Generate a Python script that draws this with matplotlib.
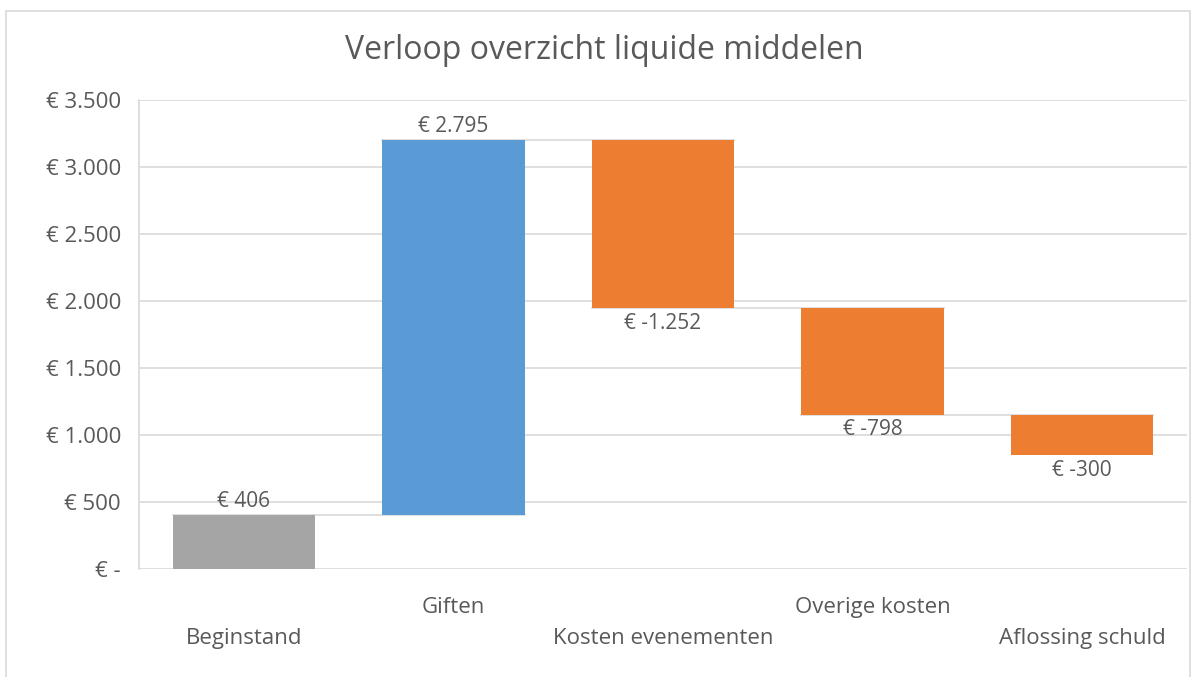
import numpy as np
import matplotlib.pyplot as plt
from matplotlib.patches import Rectangle
from matplotlib.ticker import FuncFormatter

categories = ["Beginstand", "Giften", "Kosten evenementen", "Overige kosten", "Aflossing schuld"]
changes = [406, 2795, -1252, -798, -300]
colors = ["#A5A5A5", "#5B9BD5", "#ED7D31", "#ED7D31", "#ED7D31"]
y_ticks = [0, 500, 1000, 1500, 2000, 2500, 3000, 3500]

plt.rcParams["font.family"] = ["Open Sans", "DejaVu Sans"]
text_color = "#595959"
grid_color = "#D9D9D9"


def euro(v, pos=None):
    if v == 0:
        return "€ -"
    s = f"{abs(int(round(v))):,}".replace(",", ".")
    return f"€ -{s}" if v < 0 else f"€ {s}"


changes = np.array(changes)
ends = np.cumsum(changes)
starts = ends - changes
starts[0] = 0
x = np.arange(len(categories))

fig = plt.figure(figsize=(11.95, 6.77), dpi=100)
ax = fig.add_axes([0.1163, 0.1595, 0.8770, 0.6928])

bottoms = np.minimum(starts, ends)
heights = np.abs(changes)
ax.bar(x, heights, bottom=bottoms, width=0.68, color=colors, zorder=3)

# connector lines between bars
for i in range(len(x) - 1):
    ax.plot([x[i] - 0.34, x[i + 1] + 0.34], [ends[i], ends[i]],
            color=grid_color, lw=1.2, zorder=2)

# data labels
for i, v in enumerate(changes):
    if v >= 0:
        ax.text(x[i], ends[i] + 20, euro(v), ha="center", va="bottom",
                fontsize=15, color=text_color, zorder=4)
    else:
        ax.text(x[i], ends[i] - 35, euro(v), ha="center", va="top",
                fontsize=15, color=text_color, zorder=4)

ax.set_xlim(-0.5, len(x) - 0.5)
ax.set_ylim(0, 3500)
ax.set_yticks(y_ticks)
ax.yaxis.set_major_formatter(FuncFormatter(euro))
ax.tick_params(axis="y", length=0, labelsize=16, labelcolor=text_color, pad=13)
ax.grid(axis="y", color=grid_color, lw=1.2, zorder=0)
ax.set_axisbelow(True)
for side in ["top", "right", "bottom"]:
    ax.spines[side].set_visible(False)
ax.spines["left"].set_color(grid_color)
ax.spines["left"].set_linewidth(1.2)

# staggered category labels
ax.set_xticks([])
for i, c in enumerate(categories):
    offset = -0.083 if i % 2 == 1 else -0.149
    ax.text(x[i], offset, c, transform=ax.get_xaxis_transform(), ha="center",
            va="center", fontsize=16, color=text_color)

fig.text(0.506, 0.925, "Verloop overzicht liquide middelen", ha="center",
         va="center", fontsize=23, color=text_color)

fig.patches.append(Rectangle((6 / 1195, -0.01), 1190 / 1195 - 6 / 1195, 1 - 11 / 677 + 0.01,
                             transform=fig.transFigure, fill=False,
                             edgecolor=grid_color, lw=1.2))

fig.savefig("out.png", dpi=100, facecolor="white")
